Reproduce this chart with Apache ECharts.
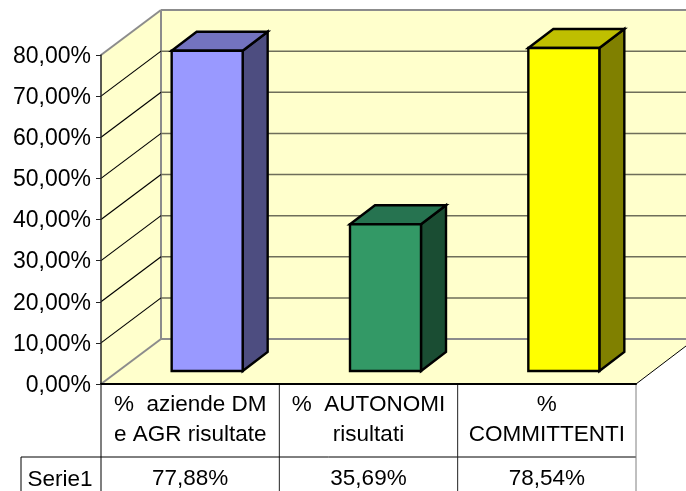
<!DOCTYPE html>
<html style="height: 100%">

<head>
    <meta charset="utf-8">
    <script src="https://cdn.jsdelivr.net/npm/echarts@6/dist/echarts.min.js"></script>
</head>

<body style="height: 100%; margin: 0; background: #fff">
    <div id="main" style="width: 686px;height:491px;"></div>
    <script type="text/javascript">
        var categories = ['%  aziende DM\ne AGR risultate', '%  AUTONOMI\nrisultati', '%\nCOMMITTENTI'];
        var serieName = 'Serie1';
        var serieValues = [77.88, 35.69, 78.54];
        var gridValues = [10, 20, 30, 40, 50, 60, 70];
        var frontColors = ['#9999FF', '#339966', '#FFFF00'];
        var topColors = ['#7373BF', '#267350', '#BFBF00'];
        var sideColors = ['#4D4D80', '#1A4D33', '#808000'];

        var FONT = '"Liberation Sans", Arial, sans-serif';
        var FONT_SIZE = 22.5;
        var WALL = '#FFFFCC';
        var EDGE = '#8C8C8C';
        // oblique offset of the back wall, and of the bars inside the box
        var DX = 60, DY = -45;
        var BAR_DX = 17, BAR_DY = -13, BAR_W = 71, BAR_DEPTH_X = 25, BAR_DEPTH_Y = -19;
        var TABLE_ROW = 457, TABLE_LEFT = 21, PAGE_BOTTOM = 491, PAGE_RIGHT = 686;

        function formatPct(v) {
            return v.toFixed(2).replace('.', ',') + '%';
        }

        function poly(points, fill) {
            return { type: 'polygon', shape: { points: points }, style: { fill: fill, stroke: null } };
        }

        function line(x1, y1, x2, y2, color, width) {
            return {
                type: 'line',
                shape: { x1: x1, y1: y1, x2: x2, y2: y2 },
                style: { stroke: color, lineWidth: width }
            };
        }

        function renderWalls(params) {
            var g = params.coordSys;
            var l = g.x, r = g.x + g.width, t = g.y, b = g.y + g.height;
            return {
                type: 'group',
                children: [
                    poly([[l + DX, t + DY], [PAGE_RIGHT, t + DY], [PAGE_RIGHT, b + DY], [l + DX, b + DY]], WALL),
                    poly([[l, t], [l + DX, t + DY], [l + DX, b + DY], [l, b]], WALL),
                    poly([[l, b], [l + DX, b + DY], [PAGE_RIGHT, b + DY], [PAGE_RIGHT, b - 38], [r, b]], WALL),
                    line(l + DX, t + DY, PAGE_RIGHT, t + DY, EDGE, 2),
                    line(l, t, l + DX, t + DY, EDGE, 2),
                    line(l + DX, t + DY, l + DX, b + DY, EDGE, 2),
                    line(l + DX, b + DY, PAGE_RIGHT, b + DY, EDGE, 2),
                    line(l, b, l + DX, b + DY, EDGE, 2),
                    line(r, b, PAGE_RIGHT, b - 38, '#000', 1)
                ]
            };
        }

        function renderGridLine(params, api) {
            var p = api.coord([0, api.value(1)]);
            var g = params.coordSys;
            var y = p[1];
            return {
                type: 'group',
                children: [
                    line(g.x, y, g.x + DX, y + DY, '#000', 1.2),
                    line(g.x + DX, y + DY, PAGE_RIGHT, y + DY, '#6E6E5A', 1.5)
                ]
            };
        }

        function renderBar(params, api) {
            var i = params.dataIndex;
            var top = api.coord([i, api.value(1)]);
            var base = api.coord([i, 0]);
            var x0 = top[0] + BAR_DX - BAR_W / 2, x1 = x0 + BAR_W;
            var y0 = top[1] + BAR_DY, y1 = base[1] + BAR_DY;
            var outline = { stroke: '#000', lineWidth: 2.4, lineJoin: 'miter' };
            return {
                type: 'group',
                children: [
                    { type: 'polygon', shape: { points: [[x1, y0], [x1 + BAR_DEPTH_X, y0 + BAR_DEPTH_Y], [x1 + BAR_DEPTH_X, y1 + BAR_DEPTH_Y], [x1, y1]] }, style: Object.assign({ fill: sideColors[i] }, outline) },
                    { type: 'polygon', shape: { points: [[x0, y0], [x0 + BAR_DEPTH_X, y0 + BAR_DEPTH_Y], [x1 + BAR_DEPTH_X, y0 + BAR_DEPTH_Y], [x1, y0]] }, style: Object.assign({ fill: topColors[i] }, outline) },
                    { type: 'polygon', shape: { points: [[x0, y0], [x1, y0], [x1, y1], [x0, y1]] }, style: Object.assign({ fill: frontColors[i] }, outline) }
                ]
            };
        }

        function renderTable(params, api) {
            var g = params.coordSys;
            var i = params.dataIndex;
            var bandW = g.width / categories.length;
            var xRight = g.x + bandW * (i + 1);
            var bottom = g.y + g.height;
            var children = [
                line(xRight, bottom, xRight, PAGE_BOTTOM, i === categories.length - 1 ? '#808080' : '#222', 1),
                {
                    type: 'text',
                    style: {
                        x: g.x + bandW * (i + 0.5), y: 479, text: formatPct(api.value(1)),
                        font: FONT_SIZE + 'px ' + FONT, fill: '#000', align: 'center', verticalAlign: 'middle'
                    }
                }
            ];
            if (i === 0) {
                children.push(line(g.x, bottom, g.x, PAGE_BOTTOM, '#555', 1.5));
                children.push(line(TABLE_LEFT, TABLE_ROW, g.x + g.width, TABLE_ROW, '#000', 1));
                children.push(line(TABLE_LEFT, TABLE_ROW, TABLE_LEFT, PAGE_BOTTOM, '#000', 1));
                children.push({
                    type: 'text',
                    style: {
                        x: (TABLE_LEFT + g.x) / 2 - 1, y: 480, text: serieName,
                        font: FONT_SIZE + 'px ' + FONT, fill: '#000', align: 'center', verticalAlign: 'middle'
                    }
                });
            }
            return { type: 'group', children: children };
        }

        var myChart = echarts.init(document.getElementById('main'));
        myChart.setOption({
            animation: false,
            grid: { left: 101, right: 50, top: 55, bottom: 107 },
            xAxis: {
                type: 'category',
                data: categories,
                z: 5,
                axisLine: { lineStyle: { color: '#000', width: 2 } },
                axisTick: { show: false },
                axisLabel: { interval: 0, color: '#000', fontFamily: FONT, fontSize: FONT_SIZE, lineHeight: 30, margin: 6 }
            },
            yAxis: {
                type: 'value',
                min: 0,
                max: 80,
                interval: 10,
                z: 5,
                splitLine: { show: false },
                axisLine: { show: true, lineStyle: { color: '#222', width: 1.5 } },
                axisTick: { show: true, length: 5, lineStyle: { color: '#222', width: 1 } },
                axisLabel: {
                    color: '#000', fontFamily: FONT, fontSize: 23, lineHeight: 23, margin: 10,
                    verticalAlign: 'top', padding: [-10, 0, 0, 0],
                    formatter: function (v) { return formatPct(v); }
                }
            },
            series: [
                { type: 'custom', name: 'walls', z: 1, silent: true, renderItem: renderWalls, data: [0] },
                { type: 'custom', name: 'griglia', z: 2, silent: true, renderItem: renderGridLine, data: gridValues },
                { type: 'custom', name: serieName, z: 3, renderItem: renderBar, data: serieValues },
                { type: 'custom', name: 'tabella', z: 4, silent: true, renderItem: renderTable, data: serieValues }
            ]
        });
    </script>
</body>

</html>
